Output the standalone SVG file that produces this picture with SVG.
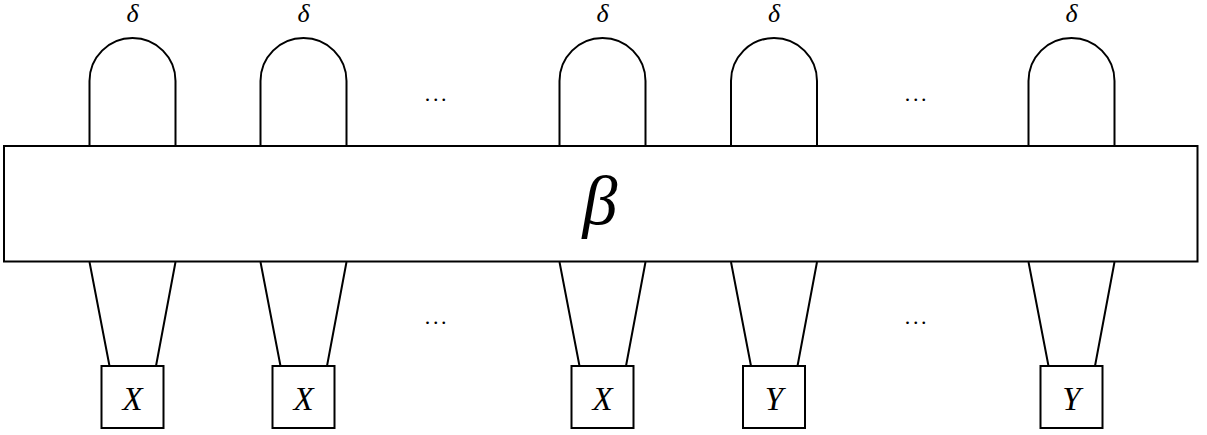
<svg xmlns="http://www.w3.org/2000/svg" width="1207" height="435" viewBox="0 0 1207 435">
<style>
.l{fill:none;stroke:#000;stroke-width:2}
.b{fill:#fff;stroke:#000;stroke-width:2}
.t{font-family:"Liberation Serif","DejaVu Serif",serif;font-style:italic;text-anchor:middle;fill:#000}
.d{font-family:"Liberation Serif","DejaVu Serif",serif;font-size:22px;letter-spacing:2.6px;text-anchor:middle;fill:#000}
</style>
<rect width="1207" height="435" fill="#fff"/>
<g id="connectors">
<path class="l" d="M89.5,146 V81 A43,43 0 0 1 175.5,81 V146"/>
<path class="l" d="M260.5,146 V81 A43,43 0 0 1 346.5,81 V146"/>
<path class="l" d="M559.5,146 V81 A43,43 0 0 1 645.5,81 V146"/>
<path class="l" d="M731,146 V81 A43,43 0 0 1 817,81 V146"/>
<path class="l" d="M1028.5,146 V81 A43,43 0 0 1 1114.5,81 V146"/>
<path class="l" d="M89.5,262 L109.5,366 M175.5,262 L156,366"/>
<path class="l" d="M260.5,262 L280.5,366 M346.5,262 L327,366"/>
<path class="l" d="M559.5,262 L579.5,366 M645.5,262 L626,366"/>
<path class="l" d="M731,262 L751,366 M817,262 L797.5,366"/>
<path class="l" d="M1028.5,262 L1048.5,366 M1114.5,262 L1095,366"/>
</g>
<g id="beta">
<rect class="b" x="4" y="146" width="1193.5" height="115.5"/>
<text class="t" x="600" y="224" font-size="70">β</text>
</g>
<g id="delta-labels">
<text class="t" x="132.5" y="22" font-size="26">δ</text>
<text class="t" x="303.5" y="22" font-size="26">δ</text>
<text class="t" x="602.5" y="22" font-size="26">δ</text>
<text class="t" x="774" y="22" font-size="26">δ</text>
<text class="t" x="1071.5" y="22" font-size="26">δ</text>
</g>
<g id="dots">
<text class="d" x="437" y="101">...</text>
<text class="d" x="917" y="101">...</text>
<text class="d" x="437" y="324">...</text>
<text class="d" x="917" y="324">...</text>
</g>
<g id="box1"><rect class="b" x="101.5" y="366" width="62" height="62"/><text class="t" x="132.5" y="410" font-size="33">X</text></g>
<g id="box2"><rect class="b" x="272.5" y="366" width="62" height="62"/><text class="t" x="303.5" y="410" font-size="33">X</text></g>
<g id="box3"><rect class="b" x="571.5" y="366" width="62" height="62"/><text class="t" x="602.5" y="410" font-size="33">X</text></g>
<g id="box4"><rect class="b" x="743" y="366" width="62" height="62"/><text class="t" x="774" y="410" font-size="33">Y</text></g>
<g id="box5"><rect class="b" x="1040.5" y="366" width="62" height="62"/><text class="t" x="1071.5" y="410" font-size="33">Y</text></g>
</svg>
